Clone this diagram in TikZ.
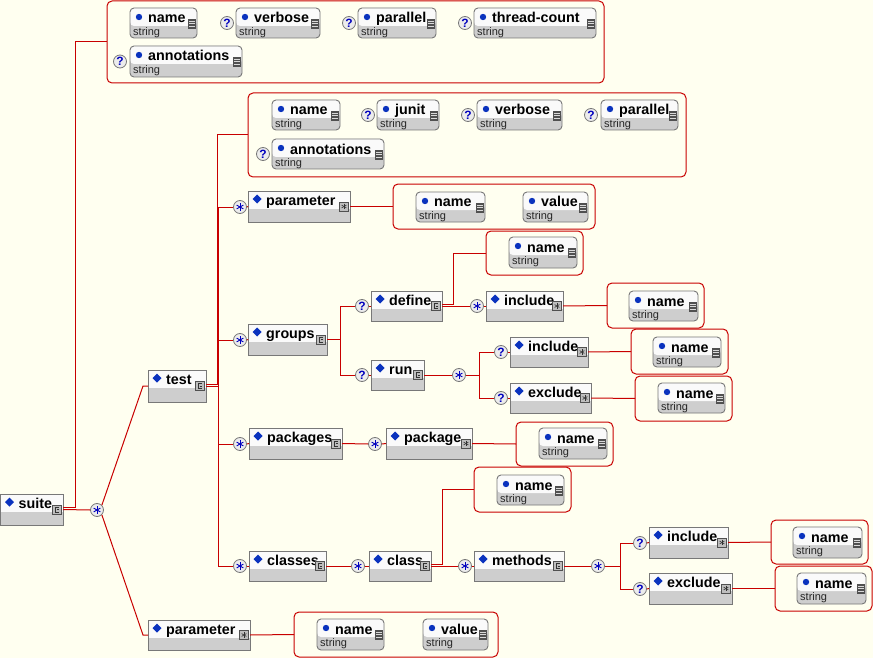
\documentclass[tikz,border=0pt]{standalone}
\usepackage{fontspec}
\setmainfont{Liberation Sans}
\usetikzlibrary{calc}

\definecolor{bgc}{RGB}{255,255,240}
\definecolor{linered}{RGB}{200,0,0}
\definecolor{boxborder}{RGB}{120,120,120}
\definecolor{elemtopc}{RGB}{250,250,250}
\definecolor{elembotc}{RGB}{206,206,206}
\definecolor{bluemark}{RGB}{10,50,190}
\definecolor{qblue}{RGB}{0,0,190}
\definecolor{circfill}{RGB}{236,236,236}
\definecolor{circborder}{RGB}{120,120,120}
\definecolor{iconfill}{RGB}{190,190,190}
\definecolor{icondark}{RGB}{80,80,80}

\tikzset{
  conn/.style={draw=linered, line width=1pt},
  grp/.style={draw=linered, line width=1pt, rounded corners=5pt, inner sep=0pt, outer sep=0pt},
  elemframe/.style={draw=boxborder, line width=1pt, fill=elembotc, inner sep=0pt, outer sep=0pt,
     path picture={\fill[elemtopc] (path picture bounding box.north west) rectangle ([yshift=-18pt]path picture bounding box.north east);}},
  attrframe/.style={draw=boxborder, line width=0.9pt, fill=elembotc, rounded corners=4pt, inner sep=0pt, outer sep=0pt,
     path picture={\fill[elemtopc] (path picture bounding box.north west) rectangle ([yshift=-18pt]path picture bounding box.north east);}},
  namelabel/.style={anchor=base west, inner sep=0pt, font=\bfseries\fontsize{14.3}{16}\selectfont},
  strlabel/.style={anchor=base west, inner sep=0pt, font=\fontsize{11}{12}\selectfont, text=black!85},
  iconbox/.style={draw=icondark, line width=0.6pt, fill=iconfill, minimum size=9pt, inner sep=0pt},
  glyph/.style={draw=black!80, line width=0.6pt},
  qc/.style={circle, draw=circborder, fill=circfill, line width=0.8pt, minimum size=13pt, inner sep=0pt,
     font=\bfseries\fontsize{12}{12}\selectfont, text=qblue},
  starline/.style={draw=qblue, line width=0.9pt},
}

% element box: name, x1, y1, x2, y2, label, icon type (s or a)
\newcommand\xelem[7]{%
  \node[elemframe, minimum width={#4-#2}, minimum height={#5-#3}] (#1) at ({(#2+#4)/2},{(#3+#5)/2}) {};
  \node[namelabel] (#1-l) at (#2+18,#3+14.5) {#6};
  \fill[bluemark] (#2+9,#3+3.5) -- (#2+13.5,#3+8) -- (#2+9,#3+12.5) -- (#2+4.5,#3+8) -- cycle;
  \node[iconbox] (#1-i) at (#4-6,{(#3+#5)/2}) {};
  \if s#7
    \draw[glyph] ([shift={(1.8pt,2.5pt)}]#1-i.center) -- ++(-3.4pt,0) -- ++(0,-5pt) -- ++(3.4pt,0);
    \draw[glyph] ([shift={(-0.3pt,0pt)}]#1-i.center) -- ++(2.3pt,0);
  \else
    \draw[glyph] ([yshift=2.8pt]#1-i.center) -- ([yshift=-2.8pt]#1-i.center);
    \draw[glyph] ([shift={(-2.4pt,1.4pt)}]#1-i.center) -- ([shift={(2.4pt,-1.4pt)}]#1-i.center);
    \draw[glyph] ([shift={(-2.4pt,-1.4pt)}]#1-i.center) -- ([shift={(2.4pt,1.4pt)}]#1-i.center);
  \fi
}

% attribute box: name, x1, y1, x2, y2, label
\newcommand\xattr[6]{%
  \node[attrframe, minimum width={#4-#2}, minimum height={#5-#3}] (#1) at ({(#2+#4)/2},{(#3+#5)/2}) {};
  \node[namelabel] (#1-l) at (#2+18,#3+15) {#6};
  \node[strlabel] (#1-s) at (#2+3,#3+27.5) {string};
  \fill[bluemark] (#2+9,#3+9) circle (3.2pt);
  \fill[icondark] (#4-9,#3+11) rectangle (#4-1.5,#3+21);
  \draw[white!85!black, line width=0.7pt] (#4-8,#3+13) -- (#4-2.5,#3+13)
        (#4-8,#3+15.5) -- (#4-2.5,#3+15.5) (#4-8,#3+18) -- (#4-2.5,#3+18);
}

% group frame: name, x1, y1, x2, y2
\newcommand\xgrp[5]{%
  \node[grp, minimum width={#4-#2}, minimum height={#5-#3}] (#1) at ({(#2+#4)/2},{(#3+#5)/2}) {};
}

% star circle: name, x, y
\newcommand\xstar[3]{%
  \node[qc] (#1) at (#2,#3) {};
  \draw[starline] ([yshift=3.8pt]#1.center) -- ([yshift=-3.8pt]#1.center);
  \draw[starline] ([shift={(-3.3pt,1.9pt)}]#1.center) -- ([shift={(3.3pt,-1.9pt)}]#1.center);
  \draw[starline] ([shift={(-3.3pt,-1.9pt)}]#1.center) -- ([shift={(3.3pt,1.9pt)}]#1.center);
}

\begin{document}
\begin{tikzpicture}[x=1pt,y=-1pt]
\useasboundingbox (0,0) rectangle (873,658);
\fill[bgc] (0,0) rectangle (873,658);

% ---------- suite ----------
\xelem{suite}{0.5}{494}{63}{525}{suite}{s}
\xstar{cs}{97}{510}

% suite attributes
\xgrp{gsuite}{107}{1}{604}{83}
\xattr{sa1}{130}{8}{197}{38}{name}
\node[qc] (qs2) at (227,23) {?};
\xattr{sa2}{236}{8}{320}{38}{verbose}
\node[qc] (qs3) at (349,23) {?};
\xattr{sa3}{358}{8}{436}{38}{parallel}
\node[qc] (qs4) at (465,23) {?};
\xattr{sa4}{474}{8}{596}{38}{thread-count}
\node[qc] (qs5) at (120,61.5) {?};
\xattr{sa5}{130}{46}{242}{77}{annotations}

% ---------- test ----------
\xelem{test}{148}{370}{206}{402}{test}{s}

\xgrp{gtest}{248}{93}{686}{177}
\xattr{ta1}{272}{100}{340}{130}{name}
\node[qc] (qt2) at (368,115) {?};
\xattr{ta2}{377}{100}{439}{130}{junit}
\node[qc] (qt3) at (468,115) {?};
\xattr{ta3}{477}{100}{562}{130}{verbose}
\node[qc] (qt4) at (591,115) {?};
\xattr{ta4}{601}{100}{678}{130}{parallel}
\node[qc] (qt5) at (263,154) {?};
\xattr{ta5}{272}{139}{384}{169}{annotations}

% test/parameter
\xstar{ctp}{240}{207}
\xelem{tparam}{248}{191}{350}{222}{parameter}{a}
\xgrp{gtparam}{393}{184}{595}{229}
\xattr{tpn}{416}{192}{485}{222}{name}
\xattr{tpv}{523}{192}{588}{222}{value}

% groups
\xstar{cg}{240}{340}
\xelem{groups}{248}{324}{327}{355}{groups}{s}
\node[qc] (qdef) at (362,306) {?};
\xelem{define}{371}{291}{442}{321}{define}{s}
\xgrp{gdname}{486}{231}{583}{275}
\xattr{dn}{509}{237}{577}{268}{name}
\xstar{cdi}{477}{306}
\xelem{dinc}{486}{291}{563}{321}{include}{a}
\xgrp{gdinc}{607}{283}{704}{328}
\xattr{din}{629}{291}{698}{321}{name}

\node[qc] (qrun) at (362,375) {?};
\xelem{run}{371}{360}{424}{390}{run}{s}
\xstar{crun}{459}{375}
\node[qc] (qri) at (501,352) {?};
\xelem{rinc}{510}{337}{588}{367}{include}{a}
\xgrp{grinc}{631}{329}{728}{374}
\xattr{rin}{653}{337}{721}{367}{name}
\node[qc] (qre) at (501,398) {?};
\xelem{rexc}{510}{383}{591}{413}{exclude}{a}
\xgrp{grexc}{635}{376}{732}{421}
\xattr{ren}{658}{383}{725}{413}{name}

% packages
\xstar{cpk}{240}{444}
\xelem{packages}{249}{428}{342}{459}{packages}{s}
\xstar{cpkg}{375}{444}
\xelem{package}{386}{428}{472}{459}{package}{a}
\xgrp{gpkg}{516}{422}{613}{466}
\xattr{pkn}{539}{428}{607}{459}{name}

% classes
\xstar{ccl}{240}{566}
\xelem{classes}{249}{551}{326}{581}{classes}{s}
\xstar{ccls}{358}{566}
\xelem{class}{369}{551}{431}{581}{class}{s}
\xgrp{gcls}{474}{467}{571}{512}
\xattr{cln}{497}{475}{564}{505}{name}
\xstar{cmeth}{465}{566}
\xelem{methods}{474}{551}{564}{581}{methods}{s}
\xstar{cm}{598}{566}
\node[qc] (qmi) at (640,543) {?};
\xelem{minc}{649}{527}{728}{558}{include}{a}
\xgrp{gminc}{771}{520}{868}{564}
\xattr{min}{793}{527}{862}{558}{name}
\node[qc] (qme) at (640,589) {?};
\xelem{mexc}{649}{573}{732}{604}{exclude}{a}
\xgrp{gmexc}{775}{566}{872}{611}
\xattr{men}{797}{573}{866}{604}{name}

% suite/parameter
\xelem{sparam}{148}{620}{250}{650}{parameter}{a}
\xgrp{gsparam}{294}{612}{498}{657}
\xattr{spn}{317}{619}{384}{650}{name}
\xattr{spv}{423}{619}{488}{650}{value}

% ---------- connectors ----------
\draw[conn] (suite.east) -- (cs.west);
\draw[conn] ([yshift=2pt]suite.east) -- ++(12,0) |- (gsuite.west);
\draw[conn] (cs.north east) -- ([xshift=-5pt]test.west) -- (test.west);
\draw[conn] (cs.south east) -- ([xshift=-5pt]sparam.west) -- (sparam.west);
\draw[conn] (sparam.east) -- (gsparam.west);

\draw[conn] ([yshift=1.5pt]test.east) -- ++(11,0) |- (gtest.west);
\draw[conn] (test.east) -- ++(12,0) coordinate (tj);
\draw[conn] (tj) |- (ctp.west);
\draw[conn] (tj) |- (cg.west);
\draw[conn] (tj) |- (cpk.west);
\draw[conn] (tj) |- (ccl.west);

\draw[conn] (ctp.east) -- (tparam.west);
\draw[conn] (tparam.east) -- (gtparam.west);

\draw[conn] (cg.east) -- (groups.west);
\draw[conn] (groups.east) -- ++(13,0) coordinate (gj);
\draw[conn] (gj) |- (qdef.west);
\draw[conn] (gj) |- (qrun.west);
\draw[conn] (qdef.east) -- (define.west);
\draw[conn] ([yshift=1.5pt]define.east) -- ++(11,0) |- (gdname.west);
\draw[conn] (define.east) -- (cdi.west);
\draw[conn] (cdi.east) -- (dinc.west);
\draw[conn] (dinc.east) -- (gdinc.west);
\draw[conn] (qrun.east) -- (run.west);
\draw[conn] (run.east) -- (crun.west);
\draw[conn] (crun.east) -- ++(13.5,0) coordinate (rj);
\draw[conn] (rj) |- (qri.west);
\draw[conn] (rj) |- (qre.west);
\draw[conn] (qri.east) -- (rinc.west);
\draw[conn] (rinc.east) -- (grinc.west);
\draw[conn] (qre.east) -- (rexc.west);
\draw[conn] (rexc.east) -- (grexc.west);

\draw[conn] (cpk.east) -- (packages.west);
\draw[conn] (packages.east) -- (cpkg.west);
\draw[conn] (cpkg.east) -- (package.west);
\draw[conn] (package.east) -- (gpkg.west);

\draw[conn] (ccl.east) -- (classes.west);
\draw[conn] (classes.east) -- (ccls.west);
\draw[conn] (ccls.east) -- (class.west);
\draw[conn] ([yshift=1.5pt]class.east) -- ++(11,0) |- (gcls.west);
\draw[conn] (class.east) -- (cmeth.west);
\draw[conn] (cmeth.east) -- (methods.west);
\draw[conn] (methods.east) -- (cm.west);
\draw[conn] (cm.east) -- ++(15.5,0) coordinate (mj);
\draw[conn] (mj) |- (qmi.west);
\draw[conn] (mj) |- (qme.west);
\draw[conn] (qmi.east) -- (minc.west);
\draw[conn] (minc.east) -- (gminc.west);
\draw[conn] (qme.east) -- (mexc.west);
\draw[conn] (mexc.east) -- (gmexc.west);
\end{tikzpicture}
\end{document}
